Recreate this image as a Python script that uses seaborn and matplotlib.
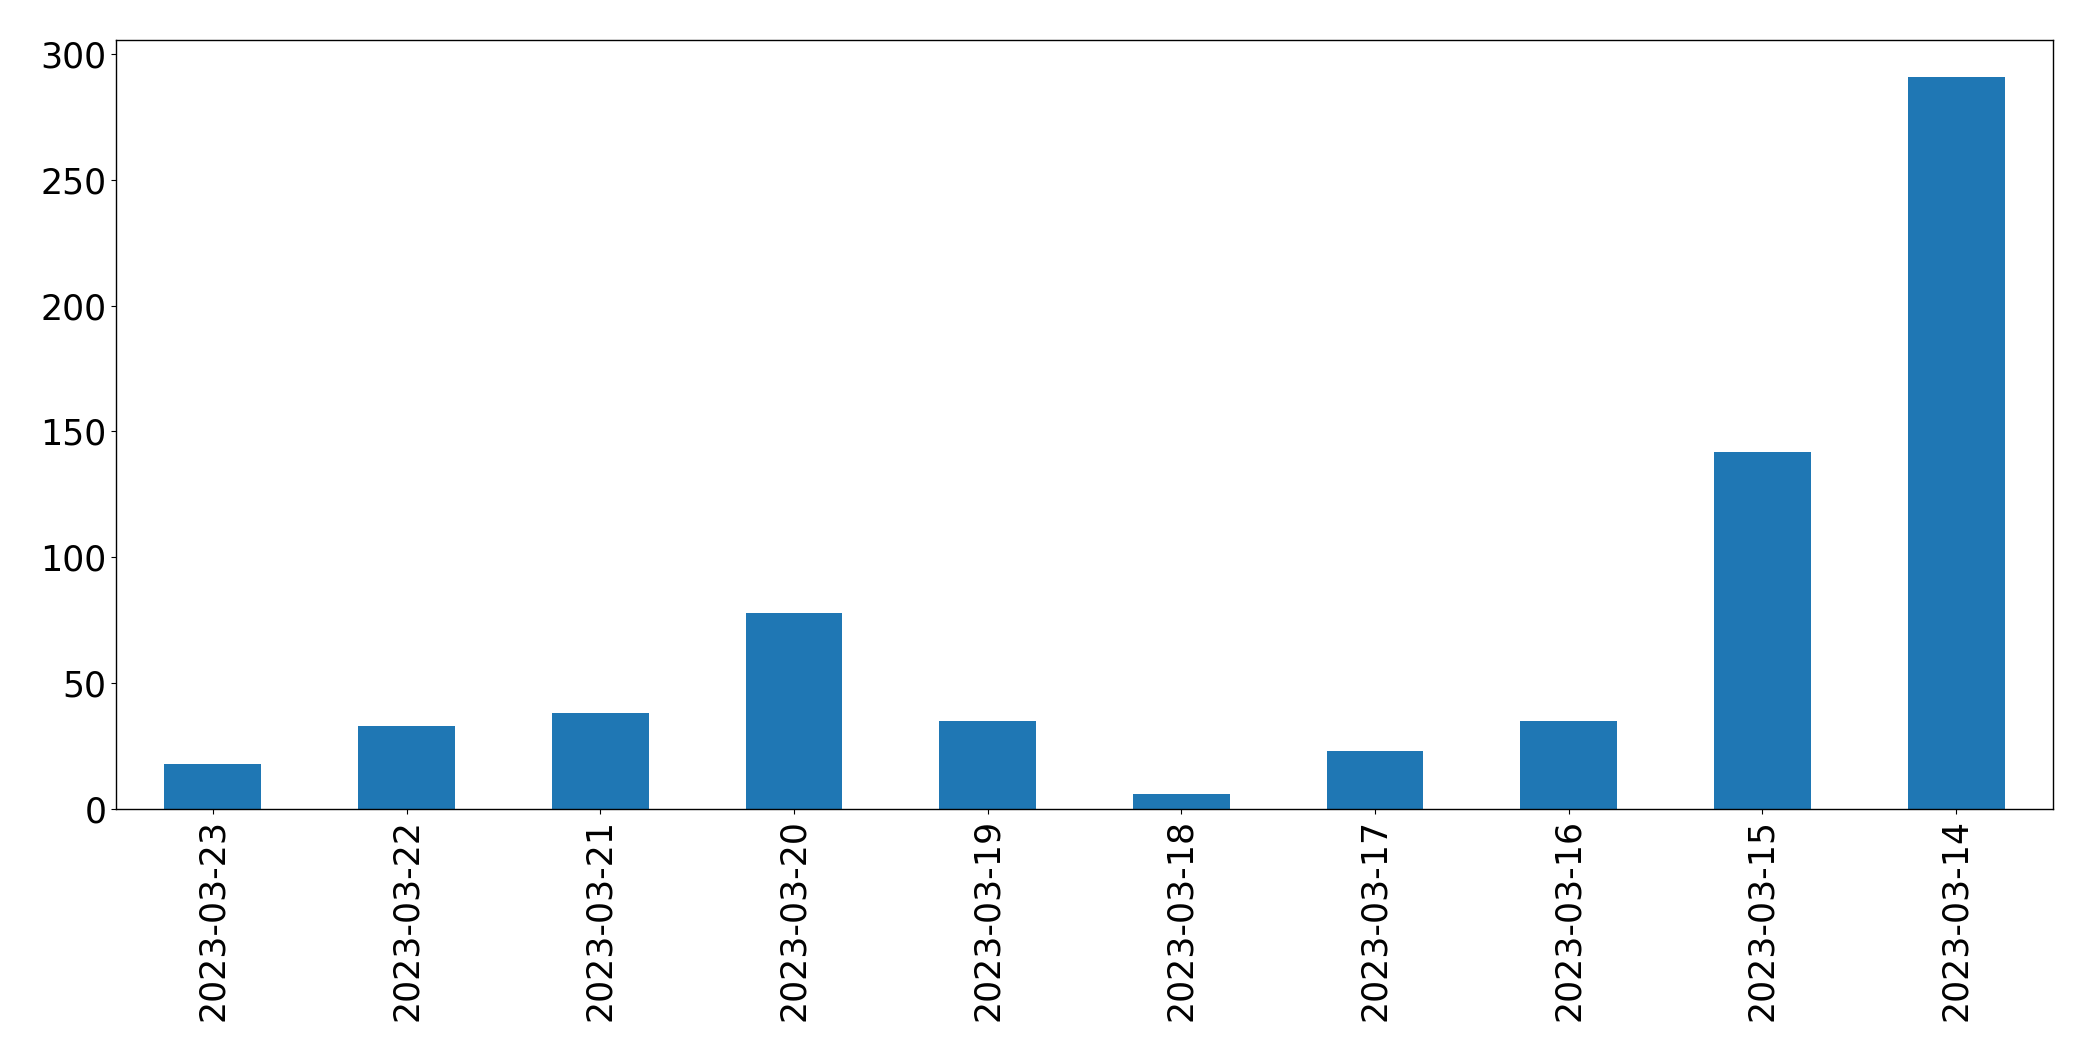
import matplotlib
matplotlib.use("Agg")
import matplotlib.pyplot as plt
import seaborn as sns
import pandas as pd

dates = ["2023-03-23", "2023-03-22", "2023-03-21", "2023-03-20", "2023-03-19",
         "2023-03-18", "2023-03-17", "2023-03-16", "2023-03-15", "2023-03-14"]
counts = [18, 33, 38, 78, 35, 6, 23, 35, 142, 291]

df = pd.DataFrame({"date": dates, "count": counts})

fig = plt.figure(figsize=(20.93, 10.61), dpi=100)
ax = fig.add_axes([116 / 2093, 1 - 809 / 1061, (2053 - 116) / 2093, (809 - 40) / 1061])
sns.barplot(data=df, x="date", y="count", order=dates, color="#1f77b4",
            saturation=1, width=0.5, linewidth=0, ax=ax)
ax.set_xlim(-0.5, len(dates) - 0.5)
ax.set_ylim(0, max(counts) * 1.05)
ax.set_xlabel("")
ax.set_ylabel("")
for s in ax.spines.values():
    s.set_color("black")
    s.set_linewidth(1.0)
ax.tick_params(axis="both", labelsize=25, colors="black")
plt.setp(ax.get_xticklabels(), rotation=90)
fig.savefig("out.png", dpi=100)
